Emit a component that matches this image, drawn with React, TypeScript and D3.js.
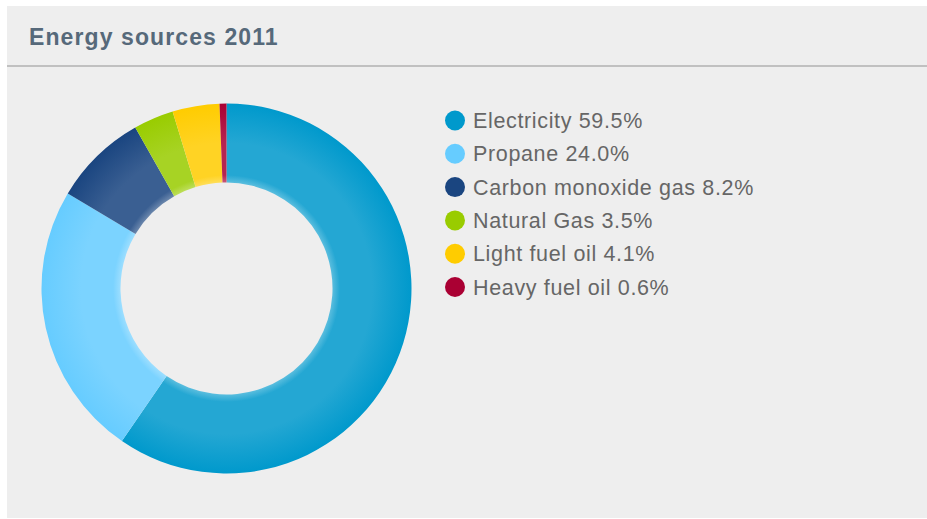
import React from "react";
import * as d3 from "d3";

const categories = ["Electricity", "Propane", "Carbon monoxide gas", "Natural Gas", "Light fuel oil", "Heavy fuel oil"];
const values = [59.5, 24.0, 8.2, 3.5, 4.1, 0.6];
const colors = ["#0099cc", "#66ccff", "#1a4580", "#99cc00", "#ffcc00", "#aa0033"];
const title = "Energy sources 2011";

const W = 927;
const H = 519;
const cx = 226.5;
const cy = 288.5;
const outerR = 185;
const innerR = 106;

export default function App() {
  const pie = d3.pie<number>().sort(null).value((d) => d)(values);
  const arc = d3.arc<d3.PieArcDatum<number>>().innerRadius(innerR).outerRadius(outerR);
  const innerFrac = innerR / outerR;
  const legendY = d3.scaleLinear().domain([0, 1]).range([120.5, 153.8]);

  return (
    <div style={{ position: "absolute", left: 0, top: 0, width: W, height: H, background: "#fff" }}>
      <svg width={W} height={H} style={{ display: "block" }}>
        <defs>
          {colors.map((c, i) => {
            const base = d3.color(c)!;
            const light = d3.interpolateRgb(c, "#ffffff")(0.14);
            const glow = d3.interpolateRgb(c, "#ffffff")(0.35);
            return (
              <radialGradient key={i} id={`g${i}`} gradientUnits="userSpaceOnUse" cx={0} cy={0} r={outerR}>
                <stop offset={innerFrac} stopColor={glow} />
                <stop offset={innerFrac + 0.04} stopColor={light} />
                <stop offset={(innerFrac + 1) / 2} stopColor={light} />
                <stop offset={1} stopColor={base.formatHex()} />
              </radialGradient>
            );
          })}
        </defs>
        <rect x={7} y={6} width={920} height={512} fill="#eeeeee" />
        <text
          x={29}
          y={44.5}
          fontFamily="Liberation Sans, Arial, sans-serif"
          fontWeight="bold"
          fontSize={23}
          letterSpacing={1.1}
          fill="#56697a"
        >
          {title}
        </text>
        <line x1={7} x2={927} y1={66} y2={66} stroke="#b0b0b0" strokeWidth={1.5} />
        <g transform={`translate(${cx},${cy})`}>
          {pie.map((p, i) => (
            <path key={i} d={arc(p) || ""} fill={`url(#g${i})`} />
          ))}
        </g>
        <g>
          {categories.map((c, i) => (
            <g key={i} transform={`translate(0,${legendY(i)})`}>
              <circle cx={455} cy={0} r={10} fill={colors[i]} />
              <text
                x={473}
                y={7.5}
                fontFamily="Liberation Sans, Arial, sans-serif"
                fontSize={21.5}
                letterSpacing={0.65}
                fill="#666666"
              >
                {`${c} ${values[i].toFixed(1)}%`}
              </text>
            </g>
          ))}
        </g>
      </svg>
    </div>
  );
}
